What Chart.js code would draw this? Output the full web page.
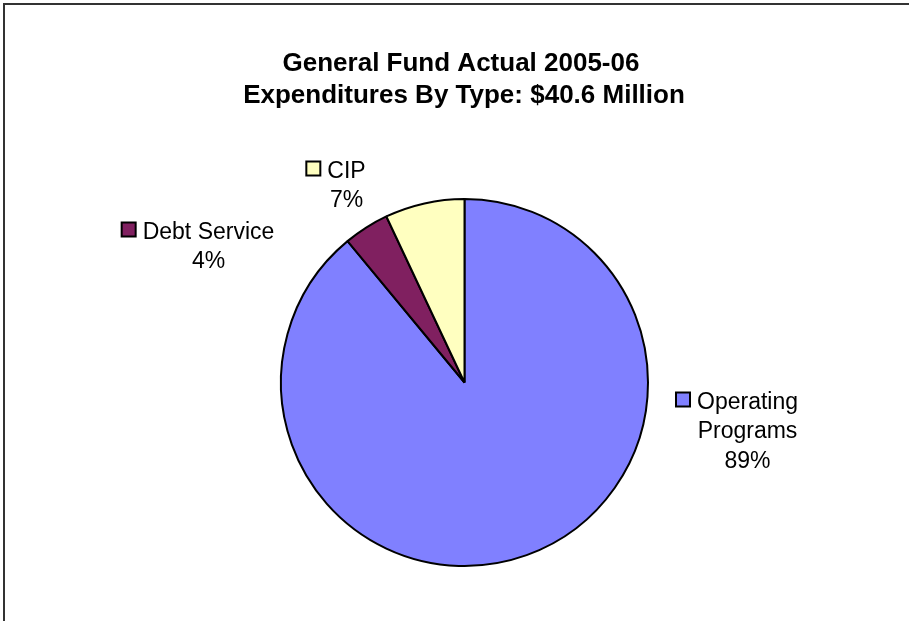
<!DOCTYPE html>
<html lang="en">
<head>
  <meta charset="UTF-8">
  <title>General Fund Expenditures 2005-06</title>
  <script src="https://cdn.jsdelivr.net/npm/chart.js"></script>
  <style>
    body {
      margin: 0;
      background: #ffffff;
    }

    /* chart frame */
    #frame {
      position: absolute;
      left: 3px;
      top: 3px;
      width: 920px;
      height: 616px;
      border-left: 2px solid #333;
      border-top: 2px solid #333;
      border-bottom: 1px solid #c8c8c8;
    }

    #chart-container {
      position: absolute;
      left: 0;
      top: 0;
      width: 909px;
      height: 621px;
    }
  </style>
</head>
<body>
<div id="frame"></div>
<div id="chart-container">
  <canvas id="fundChart"></canvas>
</div>
<script>
  // Dane wykresu
  const titleLines = ['General Fund Actual 2005-06', 'Expenditures By Type: $40.6 Million'];
  const categories = ['Operating Programs', 'Debt Service', 'CIP'];
  const labelLines = [['Operating', 'Programs'], ['Debt Service'], ['CIP']];
  const shares = [89, 4, 7];
  const sliceColors = ['#8080FF', '#802060', '#FFFFC0'];

  // Położenie etykiet względem środka koła (pierwsza linia tekstu)
  const labelOffsets = [
    { dx: 283, dy: 26 },
    { dx: -256, dy: -144 },
    { dx: -118, dy: -205 }
  ];

  const FONT = '"Liberation Sans", Arial, sans-serif';

  // Tytuł i etykiety z kwadracikami legendy
  const labelPlugin = {
    id: 'labelPlugin',
    afterDatasetsDraw: (chart) => {
      const ctx = chart.ctx;
      const meta = chart.getDatasetMeta(0);
      const cx = meta.data[0].x;
      const cy = meta.data[0].y;

      ctx.save();
      ctx.fillStyle = '#000';
      ctx.textAlign = 'center';
      ctx.textBaseline = 'alphabetic';
      ctx.font = 'bold 26px ' + FONT;
      ctx.fillText(titleLines[0], 461, 71);
      ctx.fillText(titleLines[1], 464, 103);

      ctx.font = '23px ' + FONT;
      const lineH = 29.5;
      categories.forEach((cat, i) => {
        const lines = labelLines[i].concat([shares[i] + '%']);
        const x = cx + labelOffsets[i].dx;
        const y = cy + labelOffsets[i].dy;
        lines.forEach((ln, k) => {
          ctx.fillStyle = '#000';
          ctx.fillText(ln, x, y + k * lineH);
        });
        // kwadracik legendy przy pierwszej linii
        const w = ctx.measureText(lines[0]).width;
        const left = x - w / 2;
        ctx.fillStyle = sliceColors[i];
        ctx.fillRect(left - 21, y - 16, 14, 14);
        ctx.lineWidth = 2;
        ctx.strokeStyle = '#000';
        ctx.strokeRect(left - 21, y - 16, 14, 14);
      });
      ctx.restore();
    }
  };

  const ctx = document.getElementById('fundChart').getContext('2d');
  new Chart(ctx, {
    type: 'pie',
    data: {
      labels: categories,
      datasets: [{
        data: shares,
        backgroundColor: sliceColors,
        borderColor: '#000',
        borderWidth: 2
      }]
    },
    options: {
      responsive: true,
      maintainAspectRatio: false,
      animation: false,
      layout: {
        padding: { left: 280, right: 260, top: 198, bottom: 54 }
      },
      plugins: {
        legend: { display: false },
        tooltip: { enabled: false },
        title: { display: false }
      }
    },
    plugins: [labelPlugin]
  });
</script>
</body>
</html>
